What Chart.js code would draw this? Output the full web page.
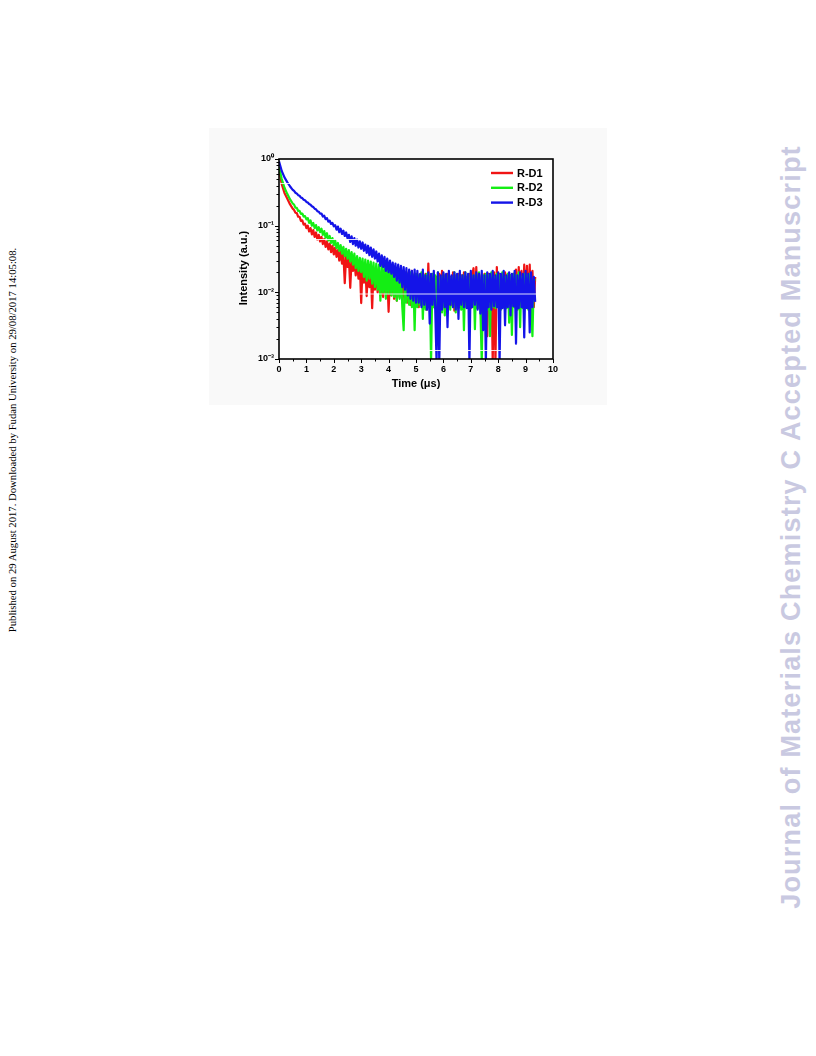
<!DOCTYPE html>
<html>
<head>
<meta charset="utf-8">
<script src="https://cdn.jsdelivr.net/npm/chart.js@4.4.1/dist/chart.umd.min.js"></script>
<style>
  html, body { margin:0; padding:0; background:#ffffff; width:816px; height:1056px; overflow:hidden; position:relative; }
  #panel { position:absolute; left:209px; top:128px; width:398px; height:277px; background:#f9f9f9; }
  #chart { position:absolute; left:0; top:0; }
  .side-left { position:absolute; left:12px; top:440px; white-space:nowrap; font-family:"Liberation Serif","Times New Roman",serif; font-size:10.7px; color:#000; transform:translate(-50%,-50%) rotate(-90deg); }
  .side-right { position:absolute; left:791px; top:527px; white-space:nowrap; font-family:"Liberation Sans",Arial,sans-serif; font-weight:bold; font-size:27px; letter-spacing:1.2px; color:#c9c9e1; transform:translate(-50%,-50%) rotate(-90deg); }
</style>
</head>
<body>
<div class="side-left">Published on 29 August 2017. Downloaded by Fudan University on 29/08/2017 14:05:08.</div>
<div class="side-right">Journal of Materials Chemistry C Accepted Manuscript</div>
<div id="panel"><canvas id="chart" width="398" height="277"></canvas></div>
<script>
// ---- data ----
const seriesLabels = ['R-D1', 'R-D2', 'R-D3'];
const xTickLabels = ['0','1','2','3','4','5','6','7','8','9','10'];
const yTickValues = [0.001, 0.01, 0.1, 1];
const yTickLabels = ['10\u207B\u00B3', '10\u207B\u00B2', '10\u207B\u00B9', '10\u2070'];
const xTitle = 'Time (\u03BCs)';
const yTitle = 'Intensity (a.u.)';

const time = [0,0.1,0.2,0.3,0.4,0.5,
0.55,0.6,0.65,0.7,0.75,0.8,0.85,0.9,0.95,1.0,
1.05,1.1,1.15,1.2,1.25,1.3,1.35,1.4,1.45,1.5,
1.55,1.6,1.65,1.7,1.75,1.8,1.85,1.9,1.95,2.0,
2.05,2.1,2.15,2.2,2.25,2.3,2.35,2.4,2.45,2.5,
2.55,2.6,2.65,2.7,2.75,2.8,2.85,2.9,2.95,3.0,
3.05,3.1,3.15,3.2,3.25,3.3,3.35,3.4,3.45,3.5,
3.55,3.6,3.65,3.7,3.75,3.8,3.85,3.9,3.95,4.0,
4.05,4.1,4.15,4.2,4.25,4.3,4.35,4.4,4.45,4.5,
4.55,4.6,4.65,4.7,4.75,4.8,4.85,4.9,4.95,5.0,
5.05,5.1,5.15,5.2,5.25,5.3,5.35,5.4,5.45,5.5,
5.55,5.6,5.65,5.7,5.75,5.8,5.85,5.9,5.95,6.0,
6.05,6.1,6.15,6.2,6.25,6.3,6.35,6.4,6.45,6.5,
6.55,6.6,6.65,6.7,6.75,6.8,6.85,6.9,6.95,7.0,
7.05,7.1,7.15,7.2,7.25,7.3,7.35,7.4,7.45,7.5,
7.55,7.6,7.65,7.7,7.75,7.8,7.85,7.9,7.95,8.0,
8.05,8.1,8.15,8.2,8.25,8.3,8.35,8.4,8.45,8.5,
8.55,8.6,8.65,8.7,8.75,8.8,8.85,8.9,8.95,9.0,
9.05,9.1,9.15,9.2,9.25,9.3,9.35];

const rd1 = [0.68,0.42,0.31,0.255,0.21,0.18,
0.172,0.156,0.154,0.136,0.136,0.118,0.12,0.104,0.107,0.092,
0.1,0.082,0.092,0.074,0.086,0.068,0.079,0.062,0.073,0.058,
0.068,0.053,0.063,0.048,0.058,0.044,0.054,0.04,0.05,0.037,
0.047,0.034,0.043,0.03,0.041,0.027,0.038,0.0137,0.035,0.024,
0.033,0.0117,0.031,0.021,0.029,0.018,0.028,0.016,0.026,0.0069,
0.025,0.014,0.024,0.0088,0.023,0.012,0.022,0.0058,0.021,0.011,
0.02,0.01,0.021,0.009,0.019,0.0085,0.018,0.0095,0.019,0.0051,
0.018,0.009,0.02,0.008,0.017,0.0075,0.019,0.0085,0.018,0.007,
0.019,0.0075,0.02,0.007,0.018,0.0065,0.021,0.007,0.019,0.0065,
0.019,0.006,0.018,0.0065,0.02,0.006,0.019,0.0055,0.027,0.006,
0.018,0.0062,0.019,0.0058,0.017,0.006,0.019,0.0065,0.021,0.006,
0.018,0.0058,0.019,0.006,0.017,0.0065,0.02,0.0053,0.018,0.006,
0.019,0.006,0.018,0.0058,0.02,0.0062,0.017,0.006,0.019,0.0058,
0.018,0.023,0.006,0.024,0.0058,0.019,0.006,0.018,0.0055,0.019,
0.006,0.0022,0.019,0.006,0.018,0.0009,0.02,0.0009,0.024,0.006,
0.019,0.0058,0.018,0.006,0.02,0.0062,0.019,0.006,0.018,0.0058,
0.019,0.006,0.022,0.0058,0.024,0.006,0.021,0.0062,0.026,0.006,
0.025,0.0058,0.026,0.0062,0.021,0.006,0.017];

const rd2 = [0.76,0.5,0.37,0.30,0.25,0.215,
0.207,0.186,0.185,0.166,0.167,0.15,0.152,0.137,0.139,0.124,
0.13,0.11,0.12,0.1,0.11,0.092,0.102,0.085,0.095,0.08,
0.09,0.073,0.083,0.066,0.077,0.06,0.07,0.055,0.065,0.051,
0.06,0.046,0.055,0.042,0.051,0.038,0.048,0.035,0.045,0.032,
0.043,0.029,0.04,0.026,0.038,0.023,0.035,0.021,0.033,0.02,
0.032,0.017,0.031,0.015,0.03,0.016,0.029,0.0135,0.028,0.012,
0.027,0.011,0.026,0.0075,0.026,0.01,0.025,0.008,0.024,0.0095,
0.023,0.009,0.022,0.0085,0.021,0.0075,0.02,0.008,0.021,0.006,
0.0027,0.02,0.007,0.019,0.0065,0.02,0.006,0.018,0.0027,0.019,
0.006,0.018,0.0065,0.02,0.004,0.018,0.0055,0.019,0.006,0.017,
0.0009,0.019,0.006,0.018,0.0055,0.02,0.006,0.017,0.005,0.019,
0.0045,0.018,0.006,0.019,0.0055,0.017,0.006,0.02,0.005,0.018,
0.0058,0.019,0.0055,0.018,0.0027,0.02,0.006,0.017,0.0055,0.019,
0.006,0.018,0.0028,0.019,0.0058,0.02,0.0055,0.0009,0.018,0.006,
0.019,0.0055,0.018,0.0022,0.02,0.006,0.017,0.0058,0.019,0.006,
0.018,0.0055,0.02,0.006,0.017,0.0058,0.019,0.0035,0.018,0.0023,
0.019,0.006,0.018,0.0055,0.02,0.003,0.017,0.0058,0.019,0.006,
0.018,0.0055,0.019,0.006,0.0022,0.016,0.015];

const rd3 = [0.92,0.66,0.53,0.45,0.39,0.345,
0.332,0.312,0.303,0.287,0.281,0.264,0.259,0.245,0.241,0.227,
0.222,0.211,0.206,0.195,0.19,0.18,0.176,0.165,0.162,0.152,
0.152,0.137,0.141,0.125,0.13,0.115,0.119,0.106,0.11,0.098,
0.102,0.087,0.097,0.08,0.09,0.075,0.084,0.07,0.079,0.065,
0.073,0.057,0.069,0.053,0.065,0.05,0.062,0.047,0.058,0.045,
0.056,0.042,0.052,0.039,0.05,0.036,0.047,0.034,0.044,0.032,
0.041,0.029,0.038,0.025,0.036,0.024,0.034,0.021,0.032,0.02,
0.03,0.019,0.028,0.017,0.027,0.015,0.026,0.014,0.025,0.012,
0.024,0.011,0.023,0.009,0.022,0.008,0.021,0.0075,0.022,0.007,
0.021,0.007,0.019,0.006,0.022,0.0065,0.018,0.0055,0.02,0.0034,
0.019,0.0065,0.021,0.006,0.0009,0.02,0.0009,0.018,0.0055,0.02,
0.006,0.019,0.003,0.021,0.0065,0.018,0.006,0.02,0.0055,0.019,
0.004,0.021,0.0065,0.018,0.006,0.02,0.0058,0.019,0.0009,0.021,
0.006,0.018,0.0065,0.02,0.0055,0.019,0.0048,0.021,0.0027,0.018,
0.0009,0.02,0.006,0.019,0.0055,0.021,0.0062,0.018,0.006,0.02,
0.0009,0.019,0.0058,0.021,0.0032,0.018,0.006,0.02,0.0045,0.019,
0.0062,0.021,0.0017,0.018,0.0058,0.02,0.006,0.019,0.0021,0.021,
0.0058,0.019,0.0025,0.02,0.006,0.017,0.0072];

const seriesColors = ['#f01414', '#14ee14', '#1414e8'];

// ---- chart ----
function pts(vals) { return time.map((t, i) => ({ x: t, y: vals[i] })); }

const FONT = '"Liberation Sans", Arial, sans-serif';

const decorPlugin = {
  id: 'decor',
  beforeDatasetsDraw(chart) {
    const { ctx, chartArea: a } = chart;
    ctx.save();
    ctx.fillStyle = '#ffffff';
    ctx.fillRect(a.left, a.top, a.right - a.left, a.bottom - a.top);
    ctx.restore();
  },
  afterDatasetsDraw(chart) {
    const { ctx, chartArea: a, scales: { x, y } } = chart;
    ctx.save();
    // faint scan lines across the plot (white artefacts in the source image)
    ctx.strokeStyle = 'rgba(255,255,255,0.85)';
    ctx.lineWidth = 1;
    [183.5 - 128, 239.5 - 128, 294 - 128, 350.5 - 128].forEach(py => {
      ctx.beginPath(); ctx.moveTo(a.left, py); ctx.lineTo(a.right, py); ctx.stroke();
    });
    // frame
    ctx.strokeStyle = '#000';
    ctx.lineWidth = 1.6;
    ctx.strokeRect(a.left, a.top, a.right - a.left, a.bottom - a.top);
    // y ticks (outward)
    ctx.lineWidth = 1;
    [0.001, 0.01, 0.1].forEach(d => {
      for (let k = 1; k <= 9; k++) {
        const py = Math.round(y.getPixelForValue(k * d)) + 0.5;
        const len = k === 1 ? 4 : 2.5;
        ctx.beginPath(); ctx.moveTo(a.left - len, py); ctx.lineTo(a.left, py); ctx.stroke();
      }
    });
    { const py = Math.round(y.getPixelForValue(1)) + 0.5;
      ctx.beginPath(); ctx.moveTo(a.left - 4, py); ctx.lineTo(a.left, py); ctx.stroke(); }
    // x ticks (outward)
    for (let i = 0; i <= 20; i++) {
      const v = i / 2;
      const px = Math.round(x.getPixelForValue(v)) + 0.5;
      const len = i % 2 === 0 ? 4 : 2.5;
      ctx.beginPath(); ctx.moveTo(px, a.bottom); ctx.lineTo(px, a.bottom + len); ctx.stroke();
    }
    // legend inside plot
    ctx.font = 'bold 11px ' + FONT;
    ctx.textBaseline = 'middle';
    ctx.textAlign = 'left';
    chart.data.datasets.forEach((ds, i) => {
      const ly = a.top + 14 + i * 14.8;
      ctx.strokeStyle = ds.borderColor;
      ctx.lineWidth = 2.4;
      ctx.beginPath(); ctx.moveTo(a.right - 62, ly); ctx.lineTo(a.right - 40, ly); ctx.stroke();
      ctx.fillStyle = '#000';
      ctx.fillText(ds.label, a.right - 36, ly + 0.5);
    });
    // y title
    ctx.save();
    ctx.translate(244 - 209, 268 - 128);
    ctx.rotate(-Math.PI / 2);
    ctx.textAlign = 'center';
    ctx.fillStyle = '#000';
    ctx.font = 'bold 11px ' + FONT;
    ctx.fillText(yTitle, 0, 0);
    ctx.restore();
    ctx.restore();
  }
};

new Chart(document.getElementById('chart'), {
  type: 'line',
  data: {
    datasets: [
      { label: seriesLabels[0], data: pts(rd1), borderColor: seriesColors[0], order: 3 },
      { label: seriesLabels[1], data: pts(rd2), borderColor: seriesColors[1], order: 2 },
      { label: seriesLabels[2], data: pts(rd3), borderColor: seriesColors[2], order: 1 }
    ]
  },
  options: {
    responsive: false,
    animation: false,
    devicePixelRatio: 1,
    layout: { padding: { left: 0, top: 31, right: 54, bottom: 0 } },
    elements: { point: { radius: 0 }, line: { borderWidth: 2.2, tension: 0, borderJoinStyle: 'round' } },
    plugins: { legend: { display: false }, tooltip: { enabled: false } },
    scales: {
      x: {
        type: 'linear', min: 0, max: 10,
        grid: { display: false, drawTicks: false },
        border: { display: false },
        ticks: {
          stepSize: 1, padding: 5, color: '#000',
          font: { family: FONT, size: 9, weight: 'bold' },
          callback: (v) => xTickLabels[Math.round(v)] ?? ''
        },
        title: { display: true, text: xTitle, color: '#000', font: { family: FONT, size: 11, weight: 'bold' }, padding: { top: 0, bottom: 14 } },
        afterFit: (s) => { s.height = 46; }
      },
      y: {
        type: 'logarithmic', min: 0.001, max: 1,
        grid: { display: false, drawTicks: false },
        border: { display: false },
        afterBuildTicks: (s) => { s.ticks = yTickValues.map(v => ({ value: v, major: true })); },
        ticks: {
          padding: 5, color: '#000', autoSkip: false,
          font: { family: FONT, size: 9, weight: 'bold' },
          callback: (v) => { const i = yTickValues.findIndex(t => Math.abs(t - v) / t < 1e-6); return i >= 0 ? yTickLabels[i] : ''; }
        },
        afterFit: (s) => { s.width = 70; }
      }
    }
  },
  plugins: [decorPlugin]
});
</script>
</body>
</html>
